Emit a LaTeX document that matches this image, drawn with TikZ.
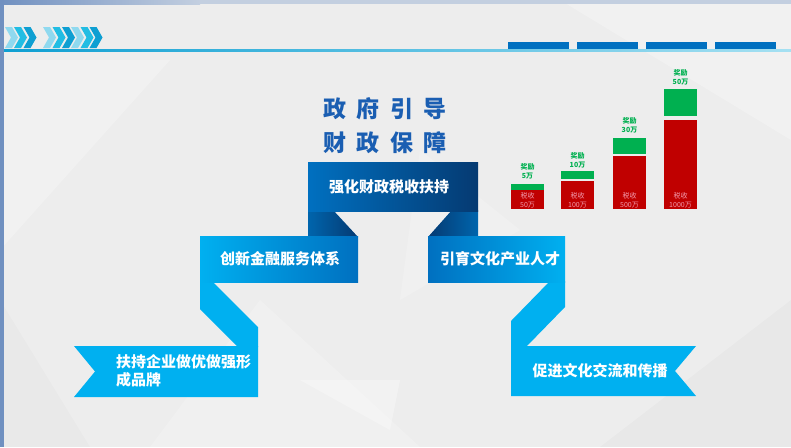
\documentclass[tikz,border=0pt]{standalone}
\usepackage{fontspec}
\newfontfamily\cjk{Noto Sans CJK SC}
\usetikzlibrary{calc}
\definecolor{bg}{HTML}{EDEDED}
\definecolor{cyanA}{HTML}{00B0F0}
\definecolor{blueA}{HTML}{0070C0}
\definecolor{navyA}{HTML}{053A72}
\definecolor{titleblue}{HTML}{1A5EB2}
\definecolor{barred}{HTML}{C00000}
\definecolor{bargreen}{HTML}{00B050}
\definecolor{pinktxt}{HTML}{F29AAC}
\definecolor{chevL}{HTML}{8FD9EF}
\definecolor{chevM}{HTML}{22BDE3}
\definecolor{chevD}{HTML}{0E9FD2}
\definecolor{frameblue}{HTML}{7090C0}
\definecolor{frametop}{HTML}{C3CFE0}
\tikzset{
  boxtext/.style={text=white, font=\cjk\fontsize{15}{18}\selectfont\bfseries, inner sep=0pt},
  titletext/.style={text=titleblue, font=\cjk\fontsize{23}{27}\selectfont\bfseries, inner sep=0pt},
  greenlbl/.style={text=bargreen, font=\cjk\fontsize{7}{8}\selectfont\bfseries, inner sep=0pt},
  pinklbl/.style={text=pinktxt, font=\cjk\fontsize{7}{8}\selectfont, inner sep=0pt},
  headbar/.style={fill=blueA, draw=none},
}
\begin{document}
\begin{tikzpicture}[x=1pt,y=-1pt]
\useasboundingbox (0,0) rectangle (791,447);
% background
\fill[bg] (0,0) rectangle (791,447);
\fill[white,opacity=0.25] (0,60) -- (170,60) -- (0,250) -- cycle;
\fill[white,opacity=0.2] (150,447) -- (260,300) -- (420,447) -- cycle;
\fill[white,opacity=0.3] (300,380) -- (400,380) -- (390,430) -- cycle;
\fill[white,opacity=0.25] (560,0) -- (791,0) -- (791,140) -- cycle;
\fill[black,opacity=0.02] (600,447) -- (791,300) -- (791,447) -- cycle;
\fill[black,opacity=0.015] (0,300) -- (90,447) -- (0,447) -- cycle;
\fill[white,opacity=0.2] (420,150) -- (520,230) -- (400,300) -- cycle;
% frame
\fill[frametop] (0,0) rectangle (791,4);
\shade[left color=frameblue, right color=frametop] (0,0) rectangle (200,4);
% header chevrons
\foreach \cx/\cc in {5/chevL,14/chevM,23.5/chevD,43/chevL,52.5/chevM,62/chevD,71/chevL,80.5/chevM,89.5/chevD}{
  \fill[\cc] (\cx,27) -- (\cx+7,27) -- (\cx+13,37.5) -- (\cx+7,48) -- (\cx,48) -- (\cx+6,37.5) -- cycle;
}
\fill[frameblue] (0,0) rectangle (4,447);
% header line
\shade[left color=chevD, right color=chevL!80!white] (4,49.3) rectangle (791,51);
% header blue bars
\foreach \hx in {508,577,646,715}{
  \fill[headbar] (\hx,42) rectangle (\hx+61,49);
}
% title
\node[titletext] (t1) at (385,109) {政\hspace{10.5pt}府\hspace{10.5pt}引\hspace{10.5pt}导};
\node[titletext] (t2) at (385,143) {财\hspace{10.5pt}政\hspace{10.5pt}保\hspace{10.5pt}障};
% folds under top box
\shade[left color=blueA!90!black, right color=navyA] (308,210) -- (333,210) -- (358,237) -- (308,237) -- cycle;
\shade[left color=navyA, right color=blueA!90!black] (452,210) -- (478,210) -- (478,237) -- (428,237) -- cycle;
% folds below second row
\fill[cyanA] (200,281) -- (212,281) -- (258,327) -- (258,347) -- (238,347) -- (200,309) -- cycle;
\fill[cyanA] (550,281) -- (565,281) -- (565,307) -- (526,347) -- (511,347) -- (511,321) -- cycle;
% top box
\shade[left color=blueA, right color=navyA] (308,162) rectangle (478,211);
\node[boxtext] (top) at (389,187) {强化财政税收扶持};
% second row
\shade[left color=cyanA, right color=blueA] (200,236) rectangle (358,282);
\node[boxtext] (b2) at (280,259) {创新金融服务体系};
\shade[left color=blueA, right color=cyanA] (428,236) rectangle (565,282);
\node[boxtext] (b3) at (500,259) {引育文化产业人才};
% bottom row
\fill[cyanA] (74,346) -- (258,346) -- (258,397) -- (74,397) -- (95,371.5) -- cycle;
\node[boxtext, anchor=west, align=left, font=\cjk\fontsize{15}{18.5}\selectfont\bfseries] (b4) at (116,371) {扶持企业做优做强形\\成品牌};
\fill[cyanA] (511,346) -- (696,346) -- (675,371) -- (696,396) -- (511,396) -- cycle;
\node[boxtext] (b5) at (600,371) {促进文化交流和传播};
% bar chart
\foreach \bx/\gt/\gb/\rt/\gy/\gv/\rv in {511/184/190/190/167/5万/50万, 561/171/179/181/156/10万/100万, 613/138/154/156/121/30万/500万, 664/89/116/120/73/50万/1000万}{
  \fill[barred] (\bx,\rt) rectangle (\bx+33,209);
  \fill[bargreen] (\bx,\gt) rectangle (\bx+33,\gb);
  \node[greenlbl] at (\bx+16.5,\gy) {奖励};
  \node[greenlbl] at (\bx+16.5,\gy+9) {\gv};
  \node[pinklbl] at (\bx+16.5,196) {税收};
  \node[pinklbl] at (\bx+16.5,205) {\rv};
}
\end{tikzpicture}
\end{document}
